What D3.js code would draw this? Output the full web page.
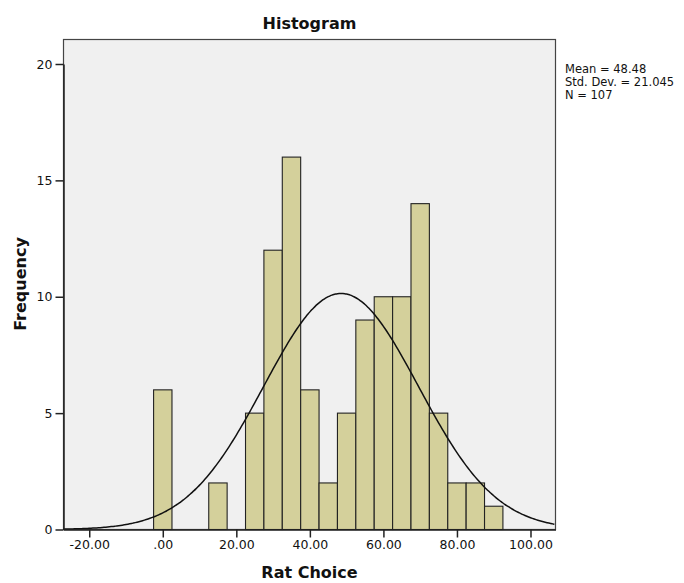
<!DOCTYPE html>
<html>
<head>
<meta charset="utf-8">
<script src="https://cdn.jsdelivr.net/npm/d3@7"></script>
<style>
  html, body { margin: 0; padding: 0; background: #ffffff; }
  svg { display: block; }
  text { font-family: "DejaVu Sans", "Liberation Sans", sans-serif; fill: #111; }
</style>
</head>
<body>
<svg id="chart" width="684" height="583"></svg>
<script>
// Histogram bins (centers) and frequencies
const binCenters = [0, 15, 25, 30, 35, 40, 45, 50, 55, 60, 65, 70, 75, 80, 85, 90];
const frequencies = [6, 2, 5, 12, 16, 6, 2, 5, 9, 10, 10, 14, 5, 2, 2, 1];
const binWidth = 5;
const xTicks = [-20, 0, 20, 40, 60, 80, 100];
const xTickLabels = ["-20.00", ".00", "20.00", "40.00", "60.00", "80.00", "100.00"];
const yTicks = [0, 5, 10, 15, 20];
const statsLines = ["Mean = 48.48", "Std. Dev. = 21.045", "N = 107"];
const mean = 48.48, sd = 21.045, n = 107;

const svg = d3.select("#chart");
const pLeft = 63.5, pRight = 555.5, pTop = 39.5, pBottom = 529.5;

const x = d3.scaleLinear().domain([-27, 106.8]).range([pLeft, pRight]);
const y = d3.scaleLinear().domain([0, 20]).range([pBottom, 64]);

// plot background
svg.append("rect")
  .attr("x", pLeft).attr("y", pTop)
  .attr("width", pRight - pLeft).attr("height", pBottom - pTop)
  .attr("fill", "#f0f0f0")
  .attr("stroke", "#444").attr("stroke-width", 1.2);

// bars
const data = binCenters.map((c, i) => ({ c, f: frequencies[i] }));
svg.append("g").selectAll("rect").data(data).join("rect")
  .attr("x", d => x(d.c - binWidth / 2))
  .attr("y", d => y(d.f))
  .attr("width", d => x(d.c + binWidth / 2) - x(d.c - binWidth / 2))
  .attr("height", d => y(0) - y(d.f))
  .attr("fill", "#d4d09b")
  .attr("stroke", "#222").attr("stroke-width", 1.1);

// normal curve
const pts = d3.range(-27, 106.8 + 0.001, 0.5).map(v => [v,
  n * binWidth / (sd * Math.sqrt(2 * Math.PI)) * Math.exp(-0.5 * Math.pow((v - mean) / sd, 2))]);
svg.append("path")
  .datum(pts)
  .attr("d", d3.line().x(d => x(d[0])).y(d => y(d[1])).curve(d3.curveBasis))
  .attr("fill", "none").attr("stroke", "#111").attr("stroke-width", 1.5);

// axes
const xAxis = d3.axisBottom(x).tickValues(xTicks)
  .tickFormat((d, i) => xTickLabels[i]).tickSize(8).tickSizeOuter(0).tickPadding(3);
const gx = svg.append("g").attr("transform", `translate(0,${pBottom})`).call(xAxis);
gx.select(".domain").attr("stroke", "#222").attr("stroke-width", 1.5);
gx.selectAll(".tick line").attr("stroke", "#222").attr("stroke-width", 1.5);
gx.selectAll(".tick text").attr("font-size", 12.5).attr("fill", "#222")
  .attr("font-family", "DejaVu Sans, sans-serif");

const yAxis = d3.axisLeft(y).tickValues(yTicks).tickSize(8).tickSizeOuter(0).tickPadding(3);
const gy = svg.append("g").attr("transform", `translate(${pLeft},0)`).call(yAxis);
gy.select(".domain").attr("stroke", "#222").attr("stroke-width", 1.5);
gy.selectAll(".tick line").attr("stroke", "#222").attr("stroke-width", 1.5);
gy.selectAll(".tick text").attr("font-size", 12.5).attr("fill", "#222")
  .attr("font-family", "DejaVu Sans, sans-serif");

// title
svg.append("text").attr("x", (pLeft + pRight) / 2).attr("y", 29)
  .attr("text-anchor", "middle").attr("font-size", 16).attr("font-weight", "bold")
  .text("Histogram");

// x axis title
svg.append("text").attr("x", (pLeft + pRight) / 2).attr("y", 578)
  .attr("text-anchor", "middle").attr("font-size", 16).attr("font-weight", "bold")
  .text("Rat Choice");

// y axis title
svg.append("text").attr("transform", "translate(26,284) rotate(-90)")
  .attr("text-anchor", "middle").attr("font-size", 16).attr("font-weight", "bold")
  .text("Frequency");

// stats
svg.append("g").selectAll("text").data(statsLines).join("text")
  .attr("x", 565).attr("y", (d, i) => 73 + i * 13)
  .attr("font-size", 11.5).attr("fill", "#111")
  .text(d => d);
</script>
</body>
</html>
